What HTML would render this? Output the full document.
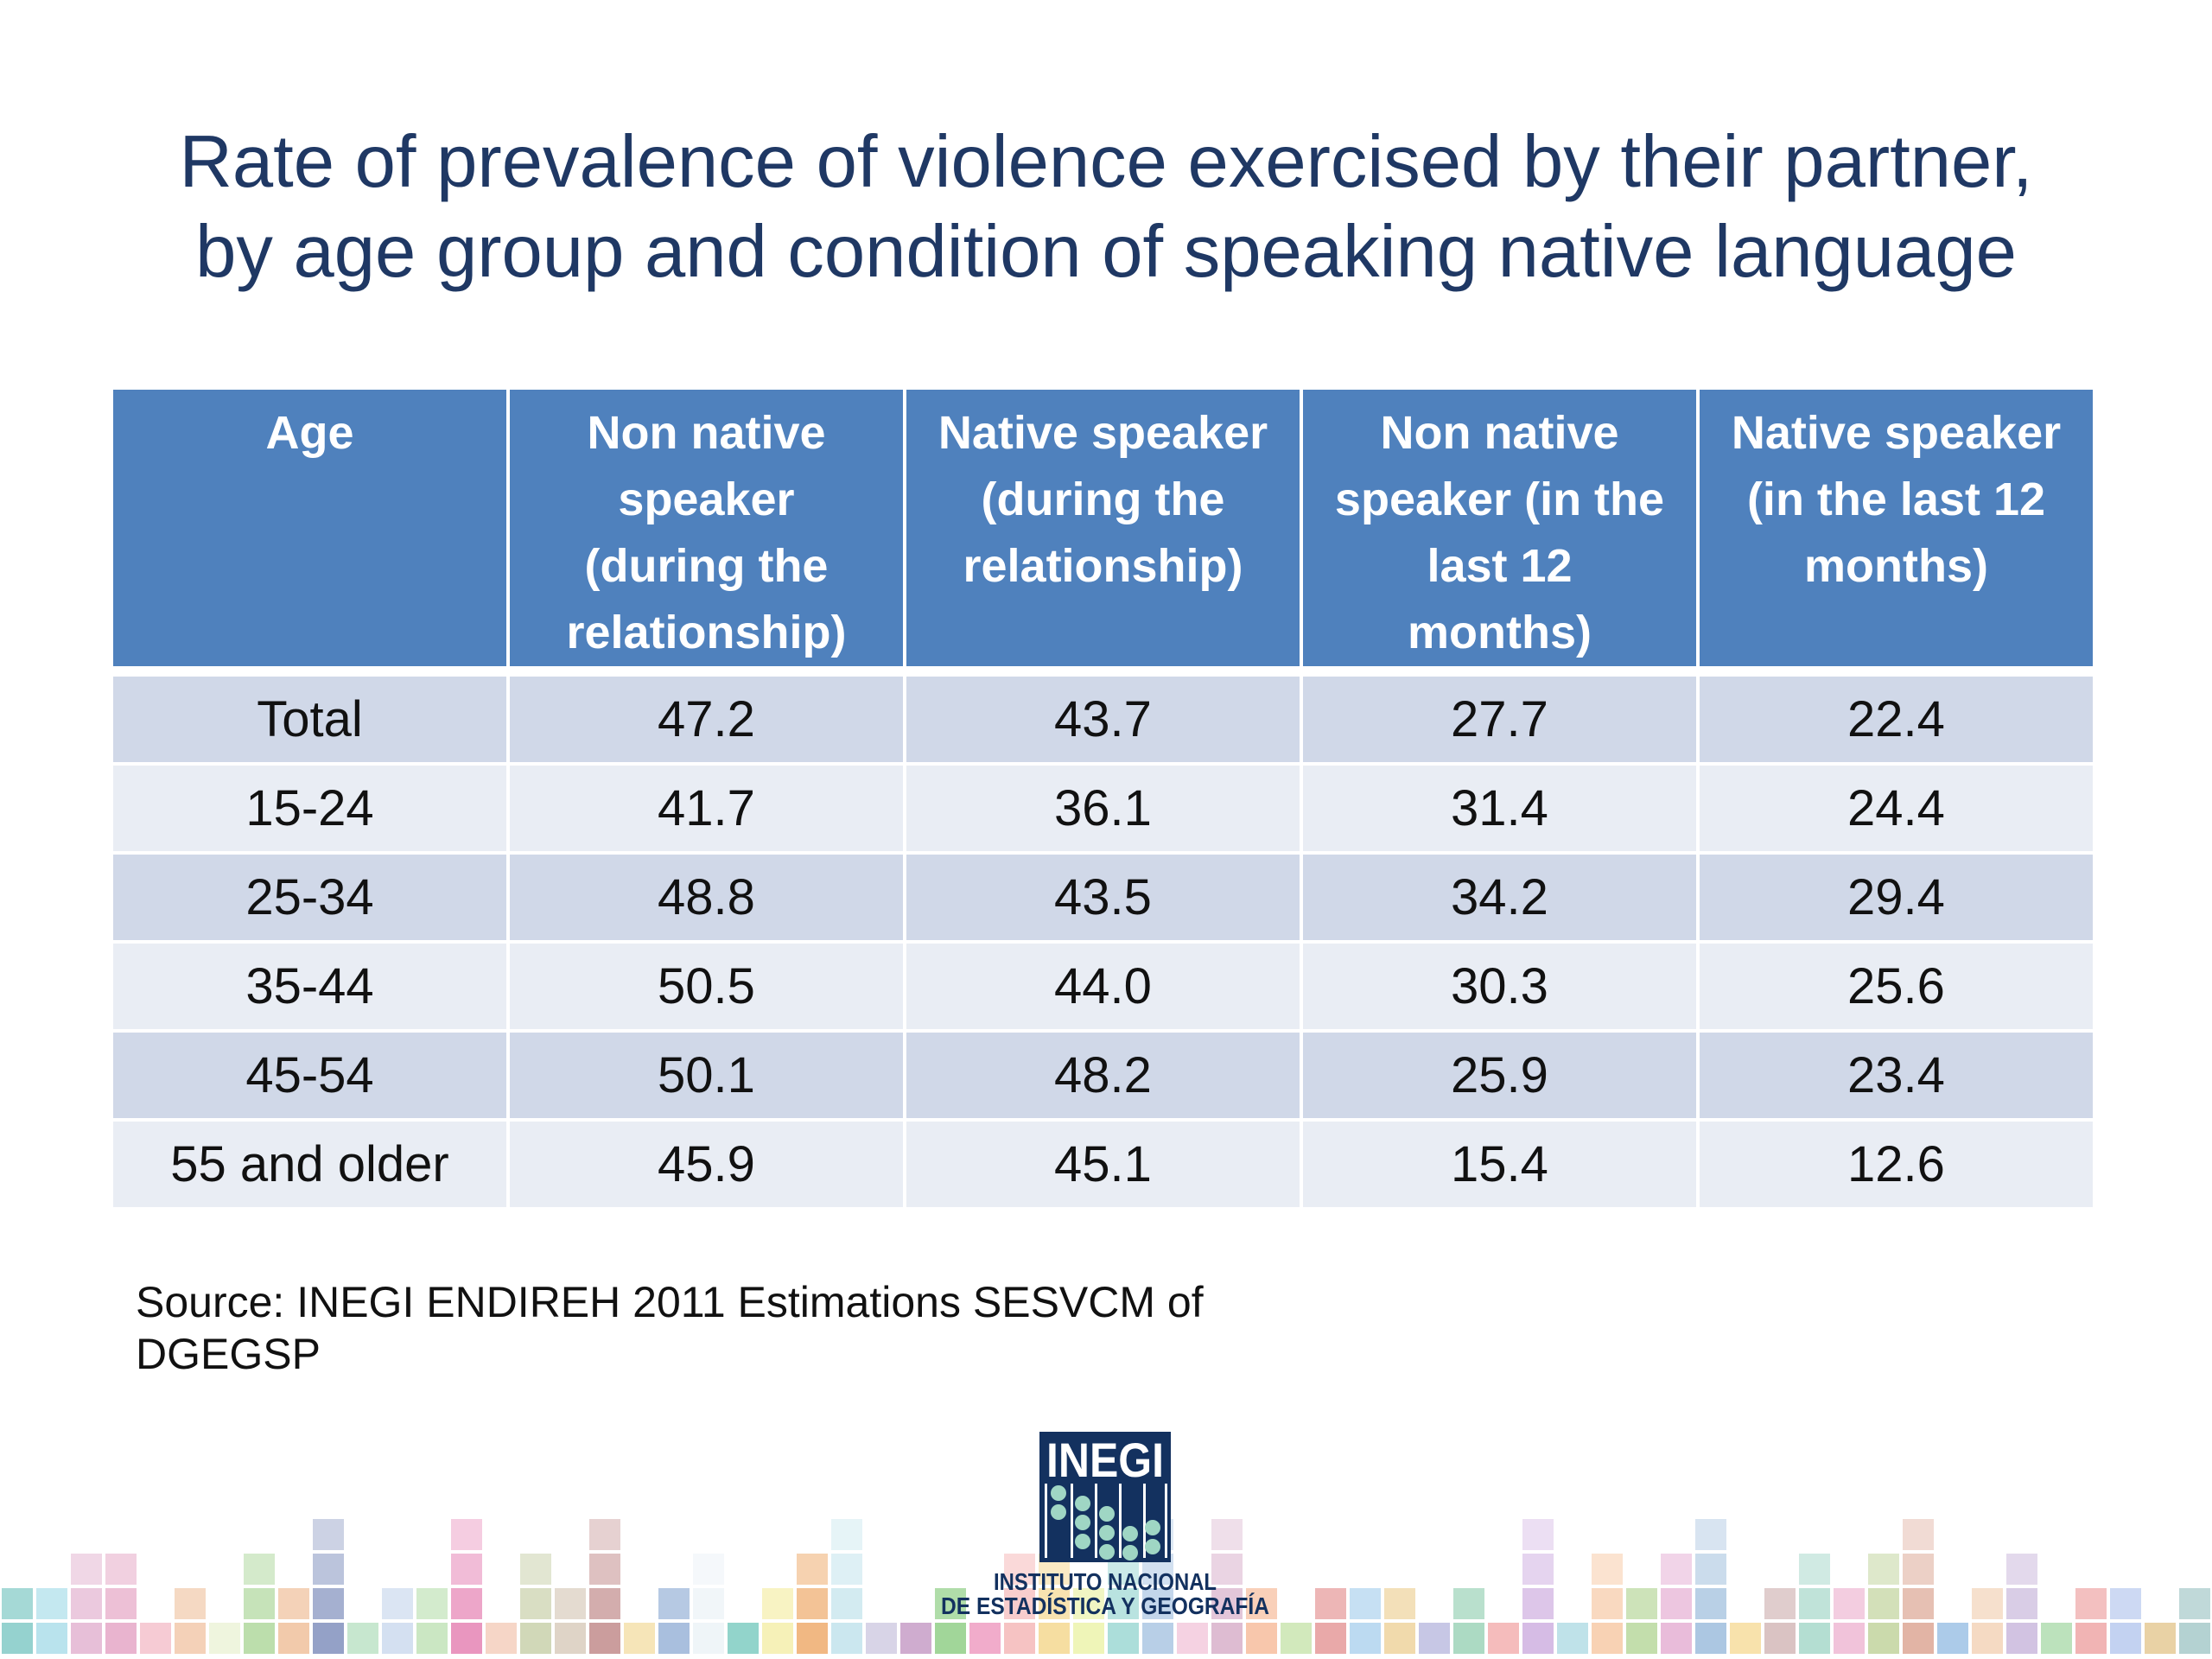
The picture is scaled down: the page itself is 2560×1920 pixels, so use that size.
<!DOCTYPE html>
<html><head><meta charset="utf-8"><style>
html,body{margin:0;padding:0;background:#fff;}
body{width:2560px;height:1920px;position:relative;overflow:hidden;font-family:"Liberation Sans",sans-serif;}
#title{position:absolute;left:0;width:2560px;top:136px;text-align:center;color:#1f3864;font-size:85px;line-height:104px;white-space:nowrap;}
table{position:absolute;left:131px;top:451px;width:2299px;border-collapse:separate;border-spacing:4px 4px;margin:-4px;table-layout:fixed;}
th{background:#4f81bd;color:#fff;font-weight:bold;font-size:54px;line-height:77px;height:311px;box-sizing:border-box;vertical-align:top;padding:12px 4px 0;text-align:center;white-space:nowrap;}
td{height:99px;font-size:58px;text-align:center;color:#111;padding:0;}
tr.gap td{height:4px;background:none}
tr.odd td{background:#d0d8e8}
tr.even td{background:#e9edf4}
#source{position:absolute;left:157px;top:1477px;font-size:50px;line-height:60px;color:#111;}
#mosaic{position:absolute;left:0;top:0;}
</style></head><body>
<svg id="mosaic" width="2560" height="1920"></svg>
<div id="title">Rate of prevalence of violence exercised by their partner,<br>by age group and condition of speaking native language</div>
<table>
<tr>
<th>Age</th>
<th>Non native<br>speaker<br>(during the<br>relationship)</th>
<th>Native speaker<br>(during the<br>relationship)</th>
<th>Non native<br>speaker (in the<br>last 12<br>months)</th>
<th>Native speaker<br>(in the last 12<br>months)</th>
</tr>
<tr class="gap"><td colspan="5"></td></tr>
<tr class="odd"><td>Total</td><td>47.2</td><td>43.7</td><td>27.7</td><td>22.4</td></tr>
<tr class="even"><td>15-24</td><td>41.7</td><td>36.1</td><td>31.4</td><td>24.4</td></tr>
<tr class="odd"><td>25-34</td><td>48.8</td><td>43.5</td><td>34.2</td><td>29.4</td></tr>
<tr class="even"><td>35-44</td><td>50.5</td><td>44.0</td><td>30.3</td><td>25.6</td></tr>
<tr class="odd"><td>45-54</td><td>50.1</td><td>48.2</td><td>25.9</td><td>23.4</td></tr>
<tr class="even"><td>55 and older</td><td>45.9</td><td>45.1</td><td>15.4</td><td>12.6</td></tr>
</table>
<div id="source">Source: INEGI ENDIREH 2011 Estimations SESVCM of<br>DGEGSP</div>
<svg id="mosaic2" style="position:absolute;left:0;top:0" width="2560" height="1920">
<rect x="1203" y="1657" width="152" height="151" fill="#13315f"/>
<text x="1279" y="1709" text-anchor="middle" fill="#fff" font-family="Liberation Sans" font-weight="bold" font-size="56" textLength="136" lengthAdjust="spacingAndGlyphs">INEGI</text>
<g fill="#fff"><rect x="1209" y="1717" width="3" height="86"/><rect x="1239" y="1717" width="3" height="86"/><rect x="1267" y="1717" width="3" height="86"/><rect x="1295" y="1717" width="3" height="86"/><rect x="1323" y="1717" width="3" height="86"/><rect x="1348" y="1717" width="3" height="86"/></g>
<g fill="#9fd6c4"><circle cx="1225" cy="1728" r="9"/><circle cx="1225" cy="1750" r="9"/><circle cx="1253" cy="1740" r="9"/><circle cx="1253" cy="1762" r="9"/><circle cx="1253" cy="1784" r="9"/><circle cx="1281" cy="1752" r="9"/><circle cx="1281" cy="1774" r="9"/><circle cx="1281" cy="1796" r="9"/><circle cx="1308" cy="1775" r="9"/><circle cx="1308" cy="1797" r="9"/><circle cx="1334" cy="1768" r="9"/><circle cx="1334" cy="1790" r="9"/></g>
<text x="1279" y="1840" text-anchor="middle" fill="#13315f" font-family="Liberation Sans" font-weight="bold" font-size="28" textLength="258" lengthAdjust="spacingAndGlyphs">INSTITUTO NACIONAL</text>
<text x="1279" y="1868" text-anchor="middle" fill="#13315f" font-family="Liberation Sans" font-weight="bold" font-size="28" textLength="380" lengthAdjust="spacingAndGlyphs">DE ESTADÍSTICA Y GEOGRAFÍA</text>
</svg>
<script>
const colHeights=[2,2,3,3,1,2,1,3,2,4,1,2,2,4,1,3,2,4,1,2,3,1,2,3,4,1,1,2,1,3,3,2,3,4,1,4,2,1,2,2,2,1,2,1,4,1,3,2,3,4,1,2,3,2,3,4,1,2,3,1,2,2,1,2];
const colColors=["#8fd0cc","#b5e2ec","#e6bcd6","#e8b0cc","#f6c8d2","#f3cfb4","#eef4dc","#b8dca8","#f1c7a6","#8e9cc4","#c4e6cc","#d2def0","#c8e6c0","#e890bc","#f6d4c4","#cfd6b4","#ddd2c4","#c89898","#f6e4b4","#a4bcdc","#eef4f8","#8cd2c8","#f6f0b4","#f0b47c","#c8e6ee","#d6d2e6","#cca8cc","#9cd494","#f0a8c8","#f6c0c0","#f6dc9c","#eef4b4","#a8dcd8","#b4cce6","#f4d0e0","#dcb8d0","#f8c4a8","#d0e8b8","#e8a4a4","#b8d8f0","#f0d8a8","#c4c4e4","#a8d8c0","#f4b8b8","#d4b8e4","#bce0e8","#f8d0b0","#c0dca8","#e8b8d8","#a8c4e0","#f8e0a8","#d8c0c0","#b0dcd0","#f0c0d8","#c8d8a8","#e0b0a0","#a8c8e8","#f4d8c0","#d0c0e0","#b8e0b8","#f0b0b0","#c0d0f0","#e8d0a0","#b0d0d0"];
const svg=document.getElementById('mosaic');
const NS='http://www.w3.org/2000/svg';
const rowY=[1878,1838,1798,1758];
const alphas=[0.95,0.8,0.6,0.45];
colHeights.forEach((h,i)=>{
  for(let r=0;r<h;r++){
    const rc=document.createElementNS(NS,'rect');
    rc.setAttribute('x',i*40+2);
    rc.setAttribute('y',rowY[r]);
    rc.setAttribute('width',36);
    rc.setAttribute('height',36);
    rc.setAttribute('fill',colColors[i%colColors.length]);
    rc.setAttribute('opacity',alphas[r]);
    
    
    svg.appendChild(rc);
  }
});
</script>
</body></html>
